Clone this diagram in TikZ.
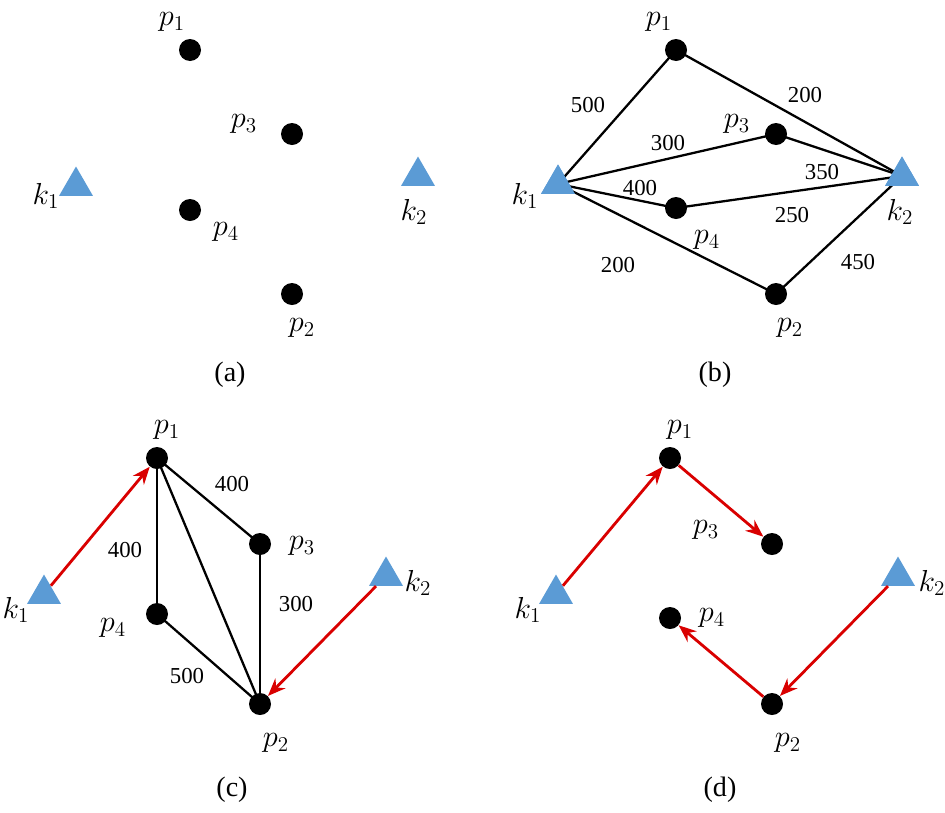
\documentclass[tikz,border=0pt]{standalone}
\usepackage{fontspec}
\setmainfont{Liberation Serif}
\usetikzlibrary{shapes.geometric,arrows.meta}
\begin{document}
\begin{tikzpicture}[x=0.02cm,y=-0.02cm,
 pt/.style={circle,fill=black,inner sep=0pt,minimum size=0.44cm},
 tri/.style={regular polygon,regular polygon sides=3,fill={rgb,255:red,91;green,155;blue,213},inner sep=0pt,minimum size=0.78cm},
 lbl/.style={font=\fontsize{17}{20}\selectfont},
 num/.style={font=\fontsize{13}{15}\selectfont},
 captxt/.style={font=\fontsize{16}{19}\selectfont},
 edge/.style={line width=1.3pt},
 rarr/.style={line width=1.6pt,red!85!black,-{Stealth[length=10pt,width=8pt]}}]
\useasboundingbox (0,0) rectangle (945,812);
% (a)
\node[pt] (ap1) at (190,50) {}; \node[pt] (ap3) at (292,134) {};
\node[tri] (ak1) at (76,186) {}; \node[pt] (ap4) at (190,210) {};
\node[tri] (ak2) at (418,176) {}; \node[pt] (ap2) at (292,294) {};
\node[lbl] (lap1) at (172,22) {$p_1$}; \node[lbl] (lap3) at (244,124) {$p_3$};
\node[lbl] (lak1) at (46,196) {$k_1$}; \node[lbl] (lap4) at (226,232) {$p_4$};
\node[lbl] (lak2) at (414,212) {$k_2$}; \node[lbl] (lap2) at (302,328) {$p_2$};
\node[captxt] (capa) at (230,375) {(a)};
% (b)
\node[pt] (bp1) at (676,50) {}; \node[pt] (bp3) at (776,134) {};
\node[tri] (bk1) at (558,184) {}; \node[pt] (bp4) at (676,208) {};
\node[tri] (bk2) at (902,176) {}; \node[pt] (bp2) at (776,294) {};
\draw[edge] (bk1.center) -- (bp1.center); \draw[edge] (bp1.center) -- (bk2.center);
\draw[edge] (bk1.center) -- (bp3.center); \draw[edge] (bp3.center) -- (bk2.center);
\draw[edge] (bk1.center) -- (bp4.center); \draw[edge] (bp4.center) -- (bk2.center);
\draw[edge] (bk1.center) -- (bp2.center); \draw[edge] (bp2.center) -- (bk2.center);
\node[tri] at (bk1) {}; \node[tri] at (bk2) {};
\node[num] (n1) at (588,105) {500}; \node[num] (n2) at (805,95) {200};
\node[num] (n3) at (668,143) {300}; \node[num] (n4) at (822,172) {350};
\node[num] (n5) at (640,188) {400}; \node[num] (n6) at (792,215) {250};
\node[num] (n7) at (618,265) {200}; \node[num] (n8) at (858,262) {450};
\node[lbl] (lbp1) at (659,22) {$p_1$}; \node[lbl] (lbp3) at (737,124) {$p_3$};
\node[lbl] (lbk1) at (525,196) {$k_1$}; \node[lbl] (lbp4) at (707,240) {$p_4$};
\node[lbl] (lbk2) at (900,212) {$k_2$}; \node[lbl] (lbp2) at (790,328) {$p_2$};
\node[captxt] (capb) at (715,375) {(b)};
% (c)
\node[pt] (cp1) at (157,458) {}; \node[pt] (cp3) at (260,544) {};
\node[tri] (ck1) at (44,594) {}; \node[pt] (cp4) at (157,614) {};
\node[tri] (ck2) at (386,576) {}; \node[pt] (cp2) at (260,704) {};
\draw[edge] (cp1.center) -- (cp3.center); \draw[edge] (cp1.center) -- (cp4.center);
\draw[edge] (cp1.center) -- (cp2.center); \draw[edge] (cp3.center) -- (cp2.center);
\draw[edge] (cp4.center) -- (cp2.center);
\draw[rarr] (ck1) -- (cp1); \draw[rarr] (ck2) -- (cp2);
\node[num] (m1) at (232,484) {400}; \node[num] (m2) at (125,550) {400};
\node[num] (m3) at (296,604) {300}; \node[num] (m4) at (187,676) {500};
\node[lbl] (lcp1) at (167,430) {$p_1$}; \node[lbl] (lcp3) at (302,546) {$p_3$};
\node[lbl] (lck1) at (16,610) {$k_1$}; \node[lbl] (lcp4) at (113,628) {$p_4$};
\node[lbl] (lck2) at (418,583) {$k_2$}; \node[lbl] (lcp2) at (276,743) {$p_2$};
\node[captxt] (capc) at (232,790) {(c)};
% (d)
\node[pt] (dp1) at (670,458) {}; \node[pt] (dp3) at (772,544) {};
\node[tri] (dk1) at (556,594) {}; \node[pt] (dp4) at (670,618) {};
\node[tri] (dk2) at (898,576) {}; \node[pt] (dp2) at (772,704) {};
\draw[rarr] (dk1) -- (dp1); \draw[rarr] (dp1) -- (dp3);
\draw[rarr] (dk2) -- (dp2); \draw[rarr] (dp2) -- (dp4);
\node[lbl] (ldp1) at (680,430) {$p_1$}; \node[lbl] (ldp3) at (706,530) {$p_3$};
\node[lbl] (ldk1) at (528,610) {$k_1$}; \node[lbl] (ldp4) at (712,618) {$p_4$};
\node[lbl] (ldk2) at (932,583) {$k_2$}; \node[lbl] (ldp2) at (788,743) {$p_2$};
\node[captxt] (capd) at (720,790) {(d)};
\end{tikzpicture}
\end{document}
